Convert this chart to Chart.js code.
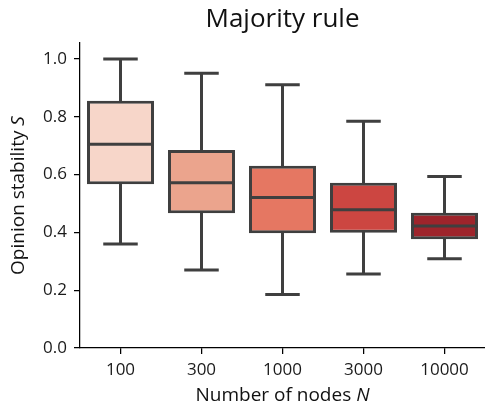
<!DOCTYPE html>
<html>
<head>
<meta charset="utf-8">
<script src="https://cdn.jsdelivr.net/npm/chart.js@4/dist/chart.umd.min.js"></script>
<style>
  html, body { margin: 0; padding: 0; background: #fff; }
  #wrap { width: 485px; height: 407px; }
</style>
</head>
<body>
<div id="wrap"><canvas id="c" width="485" height="407"></canvas></div>
<script>
/* global Chart */

// --- data ---
const categories = ['100', '300', '1000', '3000', '10000'];
const whiskerLow = [0.36, 0.27, 0.185, 0.256, 0.309];
const q1         = [0.566, 0.466, 0.397, 0.399, 0.376];
const medians    = [0.705, 0.572, 0.521, 0.478, 0.422];
const q3         = [0.855, 0.685, 0.630, 0.572, 0.468];
const whiskerHigh = [1.0, 0.95, 0.911, 0.784, 0.593];
const yTicks     = [0, 0.2, 0.4, 0.6, 0.8, 1.0];

const boxColors = ['#f7d6c9', '#eba48d', '#e57762', '#cc4641', '#9e242b'];
const EDGE = '#3f3f3f';
const LW = 3;
const FONT = '"Open Sans", "DejaVu Sans", sans-serif';

// whiskers under the boxes, medians on top — positions come from the chart scales
const boxPlotPlugin = {
  id: 'boxPlot',
  beforeDatasetsDraw(chart) {
    const { ctx, scales: { x, y } } = chart;
    const bars = chart.getDatasetMeta(0).data;
    ctx.save();
    ctx.strokeStyle = EDGE;
    ctx.lineWidth = LW;
    ctx.lineCap = 'square';
    categories.forEach((_, i) => {
      const cx = x.getPixelForValue(i);
      const half = bars[i].width / 4 - 1;
      const yLo = y.getPixelForValue(whiskerLow[i]);
      const yHi = y.getPixelForValue(whiskerHigh[i]);
      ctx.beginPath();
      ctx.moveTo(cx, y.getPixelForValue(q3[i]));
      ctx.lineTo(cx, yHi);
      ctx.moveTo(cx, y.getPixelForValue(q1[i]));
      ctx.lineTo(cx, yLo);
      ctx.moveTo(cx - half, yHi);
      ctx.lineTo(cx + half, yHi);
      ctx.moveTo(cx - half, yLo);
      ctx.lineTo(cx + half, yLo);
      ctx.stroke();
    });
    ctx.restore();
  },
  afterDatasetsDraw(chart) {
    const { ctx, scales: { x, y } } = chart;
    const bars = chart.getDatasetMeta(0).data;
    ctx.save();
    ctx.strokeStyle = EDGE;
    ctx.lineWidth = LW;
    categories.forEach((_, i) => {
      const cx = x.getPixelForValue(i);
      const half = bars[i].width / 2;
      const ym = y.getPixelForValue(medians[i]);
      ctx.beginPath();
      ctx.moveTo(cx - half, ym);
      ctx.lineTo(cx + half, ym);
      ctx.stroke();
    });
    ctx.restore();
  },
};

// title and axis titles with italic symbols
const labelsPlugin = {
  id: 'labels',
  afterDraw(chart) {
    const { ctx, chartArea: a } = chart;
    const midX = (a.left + a.right) / 2;
    const midY = (a.top + a.bottom) / 2;
    ctx.save();
    ctx.fillStyle = '#111';
    ctx.textBaseline = 'middle';
    ctx.textAlign = 'center';
    ctx.font = `26px ${FONT}`;
    ctx.fillText('Majority rule', midX, 20);

    const drawMixed = (plain, ital, cx, cy) => {
      ctx.font = `19px ${FONT}`;
      const w1 = ctx.measureText(plain).width;
      ctx.font = `italic 19px ${FONT}`;
      const w2 = ctx.measureText(ital).width;
      const start = cx - (w1 + w2) / 2;
      ctx.textAlign = 'left';
      ctx.font = `19px ${FONT}`;
      ctx.fillText(plain, start, cy);
      ctx.font = `italic 19px ${FONT}`;
      ctx.fillText(ital, start + w1, cy);
    };
    drawMixed('Number of nodes ', 'N', midX, 396);

    ctx.translate(19, midY);
    ctx.rotate(-Math.PI / 2);
    drawMixed('Opinion stability ', 'S', 0, 0);
    ctx.restore();
  },
};

new Chart(document.getElementById('c'), {
  type: 'bar',
  data: {
    labels: categories,
    datasets: [{
      data: categories.map((_, i) => [q1[i], q3[i]]),
      backgroundColor: boxColors,
      borderColor: EDGE,
      borderWidth: LW,
      borderSkipped: false,
      barPercentage: 0.827,
      categoryPercentage: 1,
    }],
  },
  options: {
    responsive: false,
    animation: false,
    layout: { padding: { top: 43, left: 0, right: 0, bottom: 0 } },
    plugins: {
      legend: { display: false },
      tooltip: { enabled: false },
      title: { display: false },
    },
    scales: {
      x: {
        grid: { display: true, offset: false, drawOnChartArea: false, tickLength: 6, color: '#000', lineWidth: 1.25 },
        border: { display: true, color: '#000', width: 1.25 },
        ticks: { color: '#1a1a1a', padding: 6, font: { family: FONT, size: 17 } },
        afterFit: (s) => { s.height = 59; },
      },
      y: {
        min: 0,
        max: 1.055,
        grid: { display: true, drawOnChartArea: false, tickLength: 6, color: '#000', lineWidth: 1.25 },
        border: { display: true, color: '#000', width: 1.25 },
        ticks: {
          color: '#1a1a1a',
          padding: 7,
          font: { family: FONT, size: 17 },
          callback: (v) => v.toFixed(1),
        },
        afterBuildTicks: (s) => { s.ticks = yTicks.map((v) => ({ value: v })); },
        afterFit: (s) => { s.width = 80; },
      },
    },
  },
  plugins: [boxPlotPlugin, labelsPlugin],
});
</script>
</body>
</html>
